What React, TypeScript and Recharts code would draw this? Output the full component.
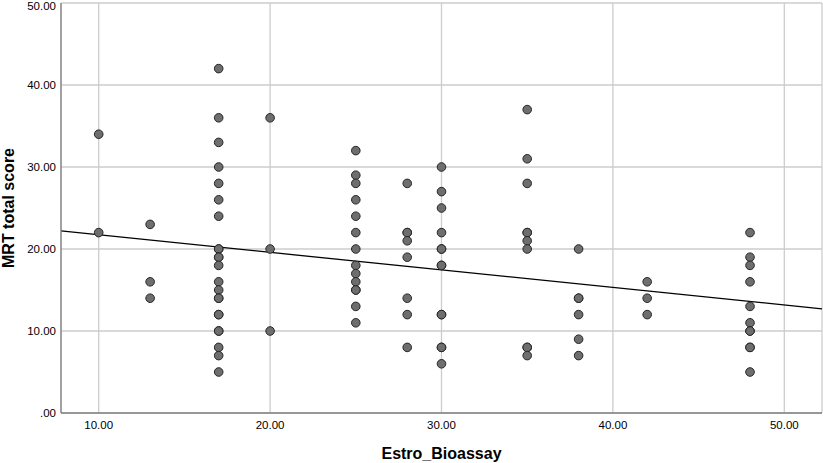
import React from 'react';
import {
  ScatterChart,
  Scatter,
  XAxis,
  YAxis,
  CartesianGrid,
  ReferenceLine,
  Label,
} from 'recharts';

// Estro_Bioassay value of each case, paired with its MRT total score
const bioassay = [
  10, 10,
  13, 13, 13,
  17, 17, 17, 17, 17, 17, 17, 17, 17, 17, 17, 17, 17, 17, 17, 17, 17, 17, 17, 17, 17, 17, 17,
  20, 20, 20,
  25, 25, 25, 25, 25, 25, 25, 25, 25, 25, 25, 25, 25, 25,
  28, 28, 28, 28, 28, 28, 28, 28,
  30, 30, 30, 30, 30, 30, 30, 30, 30, 30, 30, 30, 30,
  35, 35, 35, 35, 35, 35, 35, 35, 35, 35,
  38, 38, 38, 38, 38, 38,
  42, 42, 42,
  48, 48, 48, 48, 48, 48, 48, 48, 48, 48, 48,
];

const mrtScore = [
  34, 22,
  23, 16, 14,
  42, 36, 33, 30, 28, 26, 24, 20, 20, 19, 19, 18, 16, 15, 14, 14, 12, 12, 10, 10, 8, 7, 5,
  36, 20, 10,
  32, 29, 28, 26, 24, 22, 20, 18, 17, 16, 15, 15, 13, 11,
  28, 22, 22, 21, 19, 14, 12, 8,
  30, 27, 25, 22, 20, 20, 18, 18, 12, 12, 8, 8, 6,
  37, 31, 28, 22, 22, 21, 20, 8, 8, 7,
  20, 14, 14, 12, 9, 7,
  16, 14, 12,
  22, 19, 18, 16, 13, 11, 10, 10, 8, 8, 5,
];

const xTicks = [10, 20, 30, 40, 50];
const yTicks = [0, 10, 20, 30, 40, 50];

// fit line end points, read at the plot edges
const fitStart = { x: 7.8, y: 22.2 };
const fitEnd = { x: 52.2, y: 12.7 };

const points = bioassay.map((x, i) => ({ x, y: mrtScore[i] }));

const fmt = (v: number) => (v === 0 ? '.00' : v.toFixed(2));

const FONT = '"Liberation Sans", Arial, sans-serif';
const tickStyle = { fontSize: 11.5, fill: '#000', fontFamily: FONT };

const Dot = (props: any) => (
  <circle
    cx={props.cx}
    cy={props.cy}
    r={4.3}
    fill="#6e6e6e"
    stroke="#262626"
    strokeWidth={1}
  />
);

export default function App() {
  return (
    <div style={{ position: 'absolute', left: 0, top: 0, width: 823, height: 463, background: '#fff' }}>
      <ScatterChart
        width={823}
        height={463}
        margin={{ top: 3, right: 1, bottom: 0, left: 0 }}
      >
        <CartesianGrid stroke="#cccccc" strokeWidth={1.3} />
        <XAxis
          type="number"
          dataKey="x"
          domain={[7.8, 52.2]}
          ticks={xTicks}
          tickFormatter={fmt}
          tick={tickStyle}
          tickLine={false}
          tickSize={0}
          tickMargin={8}
          height={50}
          stroke="#808080"
          strokeWidth={1.3}
          allowDataOverflow
        >
          <Label
            content={() => (
              <text
                x={441.5}
                y={453}
                textAnchor="middle"
                dominantBaseline="central"
                fontFamily={FONT}
                fontSize={16}
                fontWeight="bold"
                fill="#000"
              >
                Estro_Bioassay
              </text>
            )}
          />
        </XAxis>
        <YAxis
          type="number"
          dataKey="y"
          domain={[0, 50]}
          ticks={yTicks}
          tickFormatter={fmt}
          tick={tickStyle}
          tickLine={false}
          tickSize={0}
          tickMargin={5}
          width={61}
          stroke="#808080"
          strokeWidth={1.3}
          allowDataOverflow
        >
          <Label
            content={() => (
              <text
                x={8}
                y={208}
                transform="rotate(-90 8 208)"
                textAnchor="middle"
                dominantBaseline="central"
                fontFamily={FONT}
                fontSize={16}
                fontWeight="bold"
                fill="#000"
              >
                MRT total score
              </text>
            )}
          />
        </YAxis>
        <ReferenceLine
          segment={[fitStart, fitEnd]}
          stroke="#000"
          strokeWidth={1.3}
        />
        <Scatter data={points} shape={Dot} isAnimationActive={false} />
      </ScatterChart>
    </div>
  );
}
